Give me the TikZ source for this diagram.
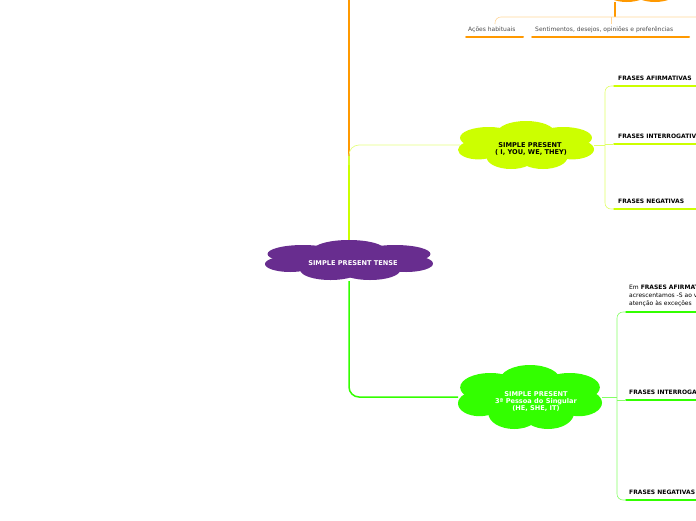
\documentclass[tikz,border=0pt]{standalone}
\usepackage{fontspec}
\setmainfont{DejaVu Sans}
\usepackage{tikz}
\usetikzlibrary{positioning}

\definecolor{tenseviolet}{HTML}{682D8F}
\definecolor{plainlime}{HTML}{CCFF00}
\definecolor{thirdgreen}{HTML}{33FF00}
\definecolor{usesorange}{HTML}{FF9900}

% cloud made of ellipses, centred at #1, half-width #2, half-height #3
\newcommand{\cloudblob}[4]{%
  \begin{scope}[shift={#1}]
    \fill[#4] (-0.55*#2,-0.30*#3) ellipse ({0.42*#2} and {0.45*#3});
    \fill[#4] (0.55*#2,-0.30*#3) ellipse ({0.42*#2} and {0.45*#3});
    \fill[#4] (-0.70*#2,0.20*#3) ellipse ({0.30*#2} and {0.40*#3});
    \fill[#4] (0.68*#2,0.18*#3) ellipse ({0.32*#2} and {0.42*#3});
    \fill[#4] (-0.22*#2,0.50*#3) ellipse ({0.36*#2} and {0.50*#3});
    \fill[#4] (0.25*#2,0.50*#3) ellipse ({0.36*#2} and {0.50*#3});
    \fill[#4] (0,-0.52*#3) ellipse ({0.42*#2} and {0.48*#3});
    \fill[#4] (0,0) ellipse ({0.82*#2} and {0.70*#3});
  \end{scope}}

\begin{document}
\begin{tikzpicture}[x=1pt, y=-1pt,
    title/.style={font=\fontsize{6.6}{8}\selectfont\bfseries, align=center},
    leaf/.style={font=\fontsize{6}{7}\selectfont\bfseries, anchor=south west, inner sep=1pt},
    note/.style={font=\fontsize{6}{7}\selectfont, anchor=south west, inner sep=1pt},
    under/.style={line width=2pt, line cap=round},
    branch/.style={line width=0.6pt, rounded corners=6pt},
]
\useasboundingbox (0,0) rectangle (696,520);
\clip (0,0) rectangle (696,520);

% Clouds
\cloudblob{(349,260)}{84}{20}{tenseviolet}
\cloudblob{(526,145)}{68}{24}{plainlime}
\cloudblob{(530,397)}{72}{32}{thirdgreen}
\cloudblob{(640,-18)}{60}{20}{usesorange}

\node[title, text=white] (tense) at (353,263) {SIMPLE PRESENT TENSE};
\node[title] (plain) at (530,149) {SIMPLE PRESENT\\[-1pt] ( I, YOU, WE, THEY)\hspace*{-2pt}};
\node[title, text=white] (third) at (536,402) {SIMPLE PRESENT\\[-1pt] 3ª Pessoa do Singular\\[-1pt] (HE, SHE, IT)};

% Main trunk
\draw[usesorange, line width=1.5pt] (349,0) -- (349,156);
\draw[plainlime, line width=1.5pt] (349,156) -- (349,240);
\draw[thirdgreen, line width=1.5pt, rounded corners=10pt] (349,281) -- (349,397) -- (458,397);
\draw[plainlime!50, line width=0.7pt, rounded corners=10pt] (349,165) -- (349,145) -- (460,145);

% Uses of the tense
\coordinate (usesroot) at (615,2);
\draw[usesorange, line width=1.2pt] (usesroot) -- (615,17);
\draw[usesorange!40, branch] (495,24) -- (495,17) -- (696,17);
\draw[usesorange!40, branch] (611,24) -- (611,17);
\node[note, text=black!70] (habit) at (467,34) {Ações habituais};
\node[note, text=black!70] (feel) at (534,34) {Sentimentos, desejos, opiniões e preferências};
\draw[usesorange, under] (466,37) -- (523,37);
\draw[usesorange, under] (532,37) -- (689,37);

% Plain branches
\draw[plainlime!60, branch] (594,145) -- (605,145);
\draw[plainlime!60, branch] (613,86) -- (605,86) -- (605,209) -- (613,209);
\draw[plainlime!60, branch] (605,144) -- (613,144);
\foreach \y/\txt/\nm in {86/FRASES AFIRMATIVAS/paff, 144/FRASES INTERROGATIVAS/pint, 209/FRASES NEGATIVAS/pneg}{
  \node[leaf] (\nm) at (617,\y-4) {\txt};
  \draw[plainlime, under] (614,\y) -- (700,\y);
}

% Third person branches
\draw[thirdgreen!60, branch] (602,397) -- (617,397);
\draw[thirdgreen!60, branch] (625,312) -- (617,312) -- (617,500) -- (625,500);
\draw[thirdgreen!60, branch] (617,400) -- (625,400);
\node[note, align=left, font=\fontsize{6}{8}\selectfont] (taff) at (628,308)
  {Em \textbf{FRASES AFIRMATIVAS}\\acrescentamos -S ao verbo, com\\atenção às exceções};
\node[leaf] (tint) at (628,396) {FRASES INTERROGATIVAS};
\node[leaf] (tneg) at (628,496) {FRASES NEGATIVAS};
\foreach \y in {312,400,500}{
  \draw[thirdgreen, under] (626,\y) -- (700,\y);
}
\end{tikzpicture}
\end{document}
